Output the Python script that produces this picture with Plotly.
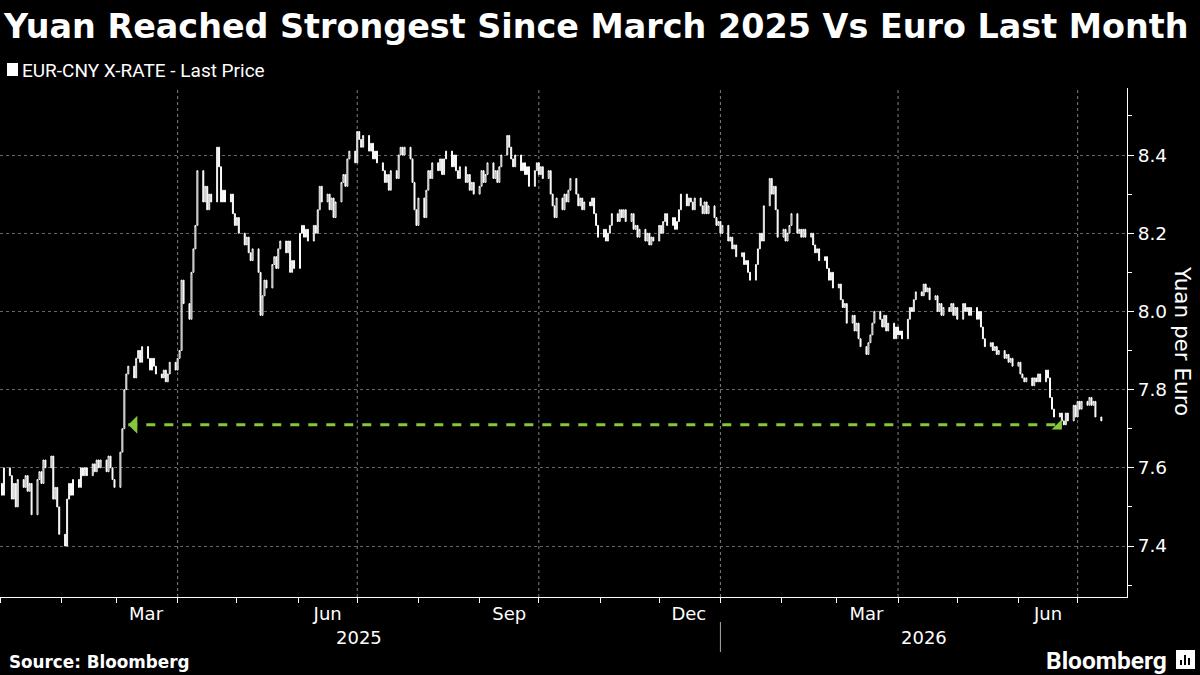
import plotly.graph_objects as go
import pandas as pd

# ---------------- data (daily closes, business days from 2025-01-02) ----------------
closes = [
    7.53, 7.60, 7.58, 7.52, 7.56,
    7.50, 7.57, 7.55, 7.58, 7.54,
    7.56, 7.48, 7.57, 7.59, 7.56,
    7.62, 7.60, 7.63, 7.52, 7.55,
    7.50, 7.43, 7.40, 7.52, 7.56,
    7.53, 7.57, 7.55, 7.60, 7.58,
    7.60, 7.58, 7.61, 7.59, 7.62,
    7.60, 7.62, 7.59, 7.63, 7.60,
    7.57, 7.55, 7.64, 7.70, 7.80,
    7.84, 7.86, 7.83, 7.88, 7.90,
    7.87, 7.91, 7.88, 7.85, 7.88,
    7.86, 7.84, 7.83, 7.85, 7.82,
    7.84, 7.87, 7.85, 7.88, 7.90,
    8.08, 8.02, 7.98, 8.10, 8.16,
    8.22, 8.36, 8.28, 8.32, 8.26,
    8.30, 8.28, 8.42, 8.37, 8.28,
    8.31, 8.28, 8.30, 8.25, 8.22,
    8.24, 8.20, 8.17, 8.19, 8.15,
    8.13, 8.16, 8.10, 7.99, 8.04,
    8.08, 8.06, 8.12, 8.14, 8.11,
    8.16, 8.18, 8.15, 8.18, 8.10,
    8.13, 8.11, 8.20, 8.22, 8.19,
    8.21, 8.18, 8.22, 8.20, 8.26,
    8.32, 8.28, 8.30, 8.26, 8.29,
    8.24, 8.28, 8.33, 8.35, 8.32,
    8.39, 8.41, 8.38, 8.46, 8.44,
    8.42, 8.45, 8.41, 8.43, 8.39,
    8.41, 8.38, 8.36, 8.33, 8.35,
    8.31, 8.36, 8.34, 8.40, 8.42,
    8.40, 8.42, 8.39, 8.33, 8.26,
    8.22, 8.29, 8.24, 8.31, 8.36,
    8.34, 8.38, 8.36, 8.39, 8.35,
    8.39, 8.41, 8.37, 8.40, 8.36,
    8.34, 8.37, 8.33, 8.35, 8.31,
    8.33, 8.30, 8.32, 8.36, 8.33,
    8.35, 8.38, 8.34, 8.36, 8.33,
    8.37, 8.40, 8.45, 8.42, 8.39,
    8.37, 8.40, 8.36, 8.38, 8.35,
    8.37, 8.32, 8.36, 8.38, 8.35,
    8.37, 8.34, 8.36, 8.30, 8.27,
    8.24, 8.29, 8.26, 8.30, 8.28,
    8.31, 8.34, 8.30, 8.27, 8.29,
    8.26, 8.28, 8.27, 8.29, 8.25,
    8.22, 8.19, 8.21, 8.18, 8.20,
    8.22, 8.25, 8.23, 8.26, 8.24,
    8.26, 8.23, 8.25, 8.21, 8.22,
    8.19, 8.21, 8.18, 8.20, 8.17,
    8.19, 8.18, 8.22, 8.20, 8.23,
    8.25, 8.22, 8.24, 8.21, 8.23,
    8.26, 8.30, 8.27, 8.29, 8.28,
    8.26, 8.29, 8.27, 8.25, 8.28,
    8.25, 8.27, 8.24, 8.22, 8.23,
    8.20, 8.22, 8.18, 8.19, 8.16,
    8.17, 8.14, 8.15, 8.12, 8.13,
    8.10, 8.08, 8.12, 8.16, 8.20,
    8.18, 8.27, 8.34, 8.30, 8.32,
    8.26, 8.19, 8.21, 8.18, 8.20,
    8.22, 8.25, 8.20, 8.21, 8.19,
    8.21, 8.19, 8.20, 8.17, 8.15,
    8.16, 8.13, 8.14, 8.11, 8.08,
    8.10, 8.06, 8.07, 8.03, 8.01,
    8.02, 7.97, 7.99, 7.95, 7.97,
    7.93, 7.91, 7.89, 7.92, 7.94,
    7.97, 8.00, 7.98, 7.96, 7.99,
    7.95, 7.97, 7.93, 7.96, 7.94,
    7.95, 7.93, 7.98, 8.01, 8.00,
    8.03, 8.05, 8.04, 8.07, 8.05,
    8.06, 8.03, 8.04, 8.00, 8.02,
    7.99, 8.01, 8.00, 8.02, 7.99,
    8.01, 7.98, 8.02, 8.00, 8.01,
    7.99, 8.01, 7.98, 8.00, 7.96,
    7.93, 7.91, 7.92, 7.90, 7.91,
    7.89, 7.90, 7.88, 7.89, 7.87,
    7.88, 7.86, 7.87, 7.84, 7.83,
    7.82, 7.83, 7.81, 7.83, 7.82,
    7.84, 7.82, 7.85, 7.83, 7.78,
    7.75, 7.73, 7.74, 7.72, 7.71,
    7.74, 7.72, 7.76, 7.73, 7.77,
    7.75, 7.77, 7.76, 7.78, 7.76,
    7.77, 7.73, 7.72,
]
first_open = 7.56
start_date = "2025-01-02"

month_tick_dates = ["2025-03-16", "2025-06-16", "2025-09-16", "2025-12-16", "2026-03-16", "2026-06-16"]
month_tick_labels = ["Mar", "Jun", "Sep", "Dec", "Mar", "Jun"]
quarter_grid_dates = ["2025-04-01", "2025-07-01", "2025-10-01", "2026-01-01", "2026-04-01", "2026-07-01"]
year_labels = ["2025", "2026"]
year_label_dates = ["2025-07-02", "2026-04-14"]
year_separator = "2026-01-01"
ref_level = 7.71
ref_start, ref_end = "2025-03-07", "2026-06-23"
y_ticks = [7.4, 7.6, 7.8, 8.0, 8.2, 8.4]

# ---------------- build OHLC ----------------
dates = pd.bdate_range(start_date, periods=len(closes))
opens = [first_open] + closes[:-1]
highs = [max(o, c) for o, c in zip(opens, closes)]
lows = [min(o, c) for o, c in zip(opens, closes)]

W, H = 1200, 675
L, R, T, B = 0, 73, 88, 78
PW, PH = W - L - R, H - T - B


def px(xp):
    return (xp - L) / PW


def py(yp):
    return (H - B - yp) / PH


GREEN = "#86c83b"
FONT = "DejaVu Sans"

fig = go.Figure()
fig.add_trace(go.Candlestick(
    x=dates, open=opens, high=highs, low=lows, close=closes,
    increasing=dict(line=dict(color="white", width=1), fillcolor="black"),
    decreasing=dict(line=dict(color="white", width=1), fillcolor="white"),
    whiskerwidth=0, showlegend=False, hoverinfo="skip",
))
fig.add_trace(go.Scatter(
    x=[ref_start, ref_end], y=[ref_level, ref_level], mode="lines",
    line=dict(color=GREEN, width=3, dash="dash"), showlegend=False, hoverinfo="skip",
))

shapes = []
for d in quarter_grid_dates:
    shapes.append(dict(type="line", xref="x", yref="paper", x0=d, x1=d, y0=0, y1=1,
                       line=dict(color="#808080", width=1, dash="dot"), layer="below"))
shapes.append(dict(type="line", xref="x", yref="paper", x0=year_separator, x1=year_separator,
                   y0=py(622), y1=py(652), line=dict(color="#aaa", width=1)))
# legend swatch
shapes.append(dict(type="rect", xref="paper", yref="paper", x0=px(7), x1=px(18), y0=py(76), y1=py(63),
                   fillcolor="white", line=dict(width=0)))
# logo icon
shapes.append(dict(type="rect", xref="paper", yref="paper", x0=px(1176), x1=px(1195), y0=py(669), y1=py(650),
                   fillcolor="white", line=dict(width=0)))
for bx0, by_top in [(1180, 660), (1184, 655), (1188, 658)]:
    shapes.append(dict(type="rect", xref="paper", yref="paper", x0=px(bx0), x1=px(bx0 + 2),
                       y0=py(665), y1=py(by_top), fillcolor="black", line=dict(width=0)))

annotations = [
    dict(text="<b>Yuan Reached Strongest Since March 2025 Vs Euro Last Month</b>",
         xref="paper", yref="paper", x=px(1), y=py(27), xanchor="left", yanchor="middle",
         showarrow=False, font=dict(family=FONT, size=33.4, color="white")),
    dict(text="EUR-CNY X-RATE - Last Price", xref="paper", yref="paper", x=px(20), y=py(70),
         xanchor="left", yanchor="middle", showarrow=False, font=dict(family="Roboto", size=19, color="white")),
    dict(text="Yuan per Euro", xref="paper", yref="paper", x=px(1183), y=py(341), textangle=90,
         xanchor="center", yanchor="middle", showarrow=False, font=dict(family=FONT, size=21.5, color="white")),
    dict(text="<b>Source: Bloomberg</b>", xref="paper", yref="paper", x=px(7), y=py(662),
         xanchor="left", yanchor="middle", showarrow=False, font=dict(family=FONT, size=16.8, color="white")),
    dict(text="<b>Bloomberg</b>", xref="paper", yref="paper", x=px(1169), y=py(660),
         xanchor="right", yanchor="middle", showarrow=False, font=dict(family="Roboto", size=24.5, color="white")),
    # arrowheads of reference line
    dict(x=ref_start, y=ref_level, xref="x", yref="y", ax=10, ay=0, axref="pixel", ayref="pixel",
         text="", showarrow=True, arrowhead=1, arrowsize=1.2, arrowwidth=2.5, arrowcolor=GREEN),
    dict(x=ref_end, y=ref_level - 0.012, xref="x", yref="y", ax=-6, ay=-6,
         text="", showarrow=True, arrowhead=1, arrowsize=1.2, arrowwidth=2, arrowcolor=GREEN),
]
for lab, d in zip(year_labels, year_label_dates):
    annotations.append(dict(text=lab, xref="x", yref="paper", x=d, y=py(637), xanchor="center",
                            yanchor="middle", showarrow=False, font=dict(family=FONT, size=18, color="white")))

fig.update_layout(
    width=W, height=H, margin=dict(l=L, r=R, t=T, b=B),
    paper_bgcolor="black", plot_bgcolor="black",
    shapes=shapes, annotations=annotations, showlegend=False,
    xaxis=dict(
        type="date", range=["2025-01-01", "2026-07-26"], rangeslider=dict(visible=False),
        showgrid=False, zeroline=False, showline=True, linecolor="white", linewidth=1,
        tickmode="array", tickvals=month_tick_dates, ticktext=month_tick_labels,
        ticks="", tickfont=dict(family=FONT, size=18, color="white"),
        minor=dict(ticks="outside", dtick="M1", tick0="2025-01-01", ticklen=5, tickcolor="white",
                   tickwidth=1, showgrid=False),
    ),
    yaxis=dict(
        side="right", range=[7.2696, 8.5714], showgrid=True, gridcolor="#666", griddash="dot",
        gridwidth=1, zeroline=False, showline=True, linecolor="white", linewidth=1,
        tickmode="array", tickvals=y_ticks, ticktext=[f"{v:.1f}" for v in y_ticks],
        ticks="outside", ticklen=6, tickcolor="white", tickfont=dict(family=FONT, size=18.5, color="white"),
        minor=dict(ticks="outside", dtick=0.1, tick0=7.3, ticklen=4, tickcolor="white", showgrid=False),
    ),
)

fig.write_html("out.html")
